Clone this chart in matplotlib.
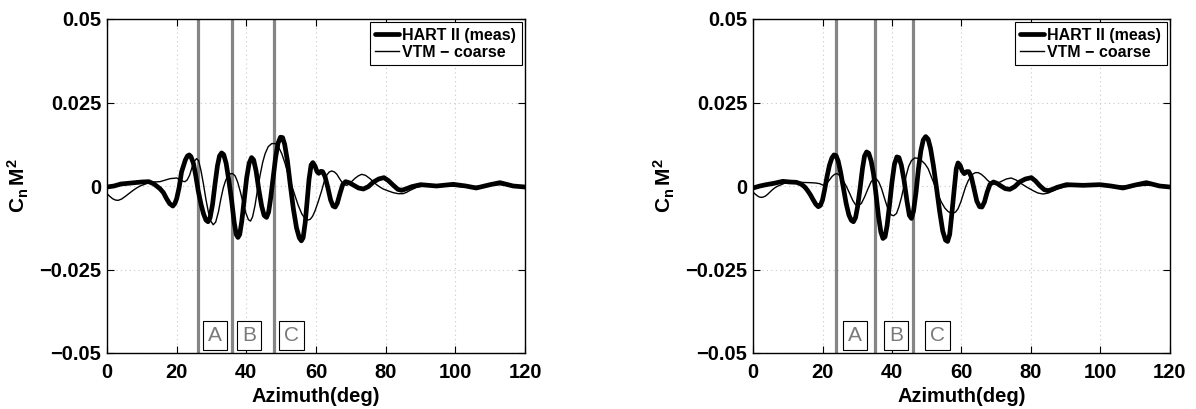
import matplotlib
matplotlib.use("Agg")
import matplotlib.pyplot as plt

plt.rcParams['font.family'] = ['Liberation Sans', 'DejaVu Sans']
plt.rcParams['mathtext.fontset'] = 'custom'
plt.rcParams['mathtext.rm'] = 'Liberation Sans'
plt.rcParams['mathtext.bf'] = 'Liberation Sans:bold'
plt.rcParams['mathtext.it'] = 'Liberation Sans:italic'

# ---------------- data ----------------
# Left panel: HART II measurement
hart_L_az = [0, 2, 4, 6, 8, 10, 12, 13.5, 15.2, 16.2, 17.1, 18.0, 18.9, 19.5, 20, 20.7,
             21.4, 22.5, 23.1, 23.6, 24.1, 24.8, 25.5, 26.2, 27.0, 27.7, 28.4, 29.0, 29.6,
             30.3, 31.0, 31.7, 32.3, 32.9, 33.5, 34.2, 35.0, 35.8, 36.5, 37.1, 37.6, 38.1,
             38.7, 39.4, 40.1, 40.8, 41.5, 42.1, 42.8, 43.6, 44.4, 45.1, 45.8, 46.4, 47.0,
             47.7, 48.4, 49.1, 49.8, 50.4, 51.0, 51.8, 52.6, 53.5, 54.4, 55.2, 55.8, 56.3,
             56.9, 57.5, 58.0, 58.6, 59.1, 59.7, 60.3, 60.8, 61.4, 61.9, 62.6, 63.4, 64.2,
             64.9, 65.5, 66.1, 66.9, 67.7, 68.5, 69.5, 70.7, 72.2, 73.6, 75, 76.5, 78, 79.5,
             80.8, 82.2, 83.5, 84.6, 86, 87.5, 90, 94.6, 99.4, 103, 106, 110, 112.8, 116.6,
             120]
hart_L_cn = [-0.0003, 0.0, 0.0006, 0.0008, 0.001, 0.0012, 0.0013, 0.0006, -0.0008,
             -0.002, -0.0038, -0.0053, -0.006, -0.0052, -0.0038, -0.0005, 0.0042, 0.0078,
             0.009, 0.0093, 0.0088, 0.0068, 0.003, -0.0015, -0.0055, -0.0083, -0.0102,
             -0.0107, -0.0095, -0.0055, 0.0005, 0.006, 0.009, 0.0099, 0.0094, 0.0068,
             0.0015, -0.0045, -0.0108, -0.0145, -0.0154, -0.0145, -0.0105, -0.004, 0.0025,
             0.0068, 0.0085, 0.0078, 0.0045, -0.0012, -0.006, -0.0088, -0.0094, -0.0078,
             -0.0035, 0.0025, 0.0085, 0.0128, 0.0146, 0.0145, 0.0125, 0.0075, 0.0005,
             -0.0068, -0.0125, -0.0155, -0.0164, -0.0155, -0.011, -0.004, 0.002, 0.0063,
             0.0070, 0.006, 0.0043, 0.0038, 0.0044, 0.0043, 0.0028, -0.0005, -0.0042,
             -0.006, -0.0063, -0.0052, -0.0022, 0.0005, 0.0013, 0.001, 0.0003, -0.0006,
             -0.0009, -0.0002, 0.0012, 0.0021, 0.0025, 0.0016, 0.0002, -0.001, -0.0013,
             -0.0008, -0.0002, 0.0004, 0.0, 0.0005, 0.0, -0.0006, 0.0004, 0.001, 0.0,
             -0.0003]

# Left panel: VTM coarse
vtm_L_az = [0, 0.8, 1.6, 2.4, 3.2, 4.2, 5.4, 6.5, 7.5, 8.5, 9.5, 10.5, 11.5, 13.3, 15.2,
            16.5, 18.1, 20, 21, 21.8, 22.4, 23.0, 23.7, 24.4, 25.0, 25.7, 26.3, 27.0, 27.7,
            28.4, 29.1, 29.8, 30.5, 31.2, 32.0, 32.7, 33.4, 34.1, 34.8, 35.5, 36.1, 36.8,
            37.5, 38.3, 39.1, 39.9, 40.6, 41.2, 41.8, 42.5, 43.2, 44.0, 44.7, 45.4, 46.3,
            47.3, 48.3, 49.2, 50.2, 51.1, 52.0, 53.0, 54.0, 54.9, 55.9, 56.8, 57.6, 58.3,
            59.0, 59.7, 60.6, 61.6, 62.4, 63.1, 63.8, 64.5, 65.3, 66, 66.7, 67.4, 68.1,
            68.8, 69.5, 70.3, 71.2, 72.1, 73.1, 74.2, 75.5, 76.5, 77.5, 78.5, 79.3, 80.8,
            82.2, 83.6, 85, 86, 87, 88.9, 91, 93.7, 98, 103, 108, 112.8, 116, 120]
vtm_L_cn = [-0.0023, -0.0031, -0.0038, -0.0042, -0.0043, -0.0039, -0.003, -0.0021,
            -0.0013, -0.0006, 0.0, 0.0004, 0.0008, 0.0012, 0.0013, 0.0017, 0.0022, 0.0024,
            0.002, 0.0014, 0.0013, 0.0018, 0.0032, 0.0055, 0.0073, 0.0082, 0.0076, 0.0045,
            0.0005, -0.004, -0.0078, -0.0105, -0.0116, -0.0108, -0.0077, -0.0038, -0.0005,
            0.0018, 0.0031, 0.0037, 0.0037, 0.003, 0.0012, -0.0018, -0.0052, -0.0082,
            -0.0101, -0.0105, -0.0092, -0.0058, -0.0012, 0.0035, 0.0071, 0.0097, 0.0118,
            0.0127, 0.0127, 0.0118, 0.0096, 0.0068, 0.0035, 0.0002, -0.003, -0.0058,
            -0.0083, -0.0097, -0.0102, -0.0100, -0.0091, -0.0075, -0.0048, -0.0015, 0.0015,
            0.0033, 0.0042, 0.0045, 0.0042, 0.0035, 0.0023, 0.0012, 0.0004, 0.0002, 0.0006,
            0.0014, 0.0023, 0.003, 0.0035, 0.0032, 0.0022, 0.0012, 0.0003, -0.0004, -0.0009,
            -0.0015, -0.002, -0.0023, -0.0023, -0.0019, -0.0013, -0.0004, 0.0, 0.0002, 0.0,
            -0.0003, 0.0, 0.0004, 0.0, 0.0]

# Right panel: HART II measurement
hart_R_az = [0, 2, 3.8, 6, 8.6, 10.6, 12.5, 13.8, 14.8, 15.6, 16.5, 17.3, 18.1, 18.8, 19.4,
             20.0, 20.6, 21.3, 22.0, 22.7, 23.3, 23.9, 24.5, 25.2, 26.0, 26.8, 27.6, 28.3,
             28.9, 29.5, 30.1, 30.8, 31.5, 32.1, 32.7, 33.3, 34.0, 34.7, 35.4, 36.1, 36.8,
             37.4, 38.0, 38.6, 39.3, 40.0, 40.7, 41.4, 42.0, 42.7, 43.5, 44.3, 45.0, 45.6,
             46.2, 46.9, 47.6, 48.3, 49.0, 49.7, 50.4, 51.1, 51.9, 52.8, 53.7, 54.6, 55.4,
             56.0, 56.6, 57.2, 57.9, 58.5, 59.0, 59.6, 60.2, 60.8, 61.5, 62.1, 62.8, 63.6,
             64.4, 65.2, 65.9, 66.6, 67.4, 68.2, 69.2, 70.2, 71.2, 72.6, 73.9, 75.3, 76.7,
             78.4, 80.1, 81.3, 82.5, 83.8, 84.9, 86.2, 87.5, 90.2, 95, 99.8, 103, 106.5, 110,
             113.2, 117, 120]
hart_R_cn = [-0.0006, 0.0, 0.0004, 0.0008, 0.0014, 0.0012, 0.0011, 0.0006, -0.0002,
             -0.0012, -0.0026, -0.0041, -0.0055, -0.0062, -0.0058, -0.0042, -0.0012, 0.0028,
             0.0062, 0.0084, 0.0093, 0.0091, 0.0075, 0.0042, -0.0005, -0.0052, -0.0087,
             -0.0103, -0.0107, -0.0095, -0.0062, -0.0008, 0.0052, 0.009, 0.0102, 0.0098,
             0.0075, 0.0035, -0.0025, -0.009, -0.0138, -0.0157, -0.0152, -0.0118, -0.0055,
             0.0012, 0.0065, 0.0087, 0.0085, 0.0062, 0.0015, -0.0045, -0.0088, -0.0097,
             -0.0075, -0.002, 0.005, 0.0105, 0.0138, 0.0148, 0.0140, 0.0112, 0.0062, -0.0005,
             -0.0075, -0.0135, -0.0162, -0.0166, -0.0145, -0.0085, -0.001, 0.0052, 0.0069,
             0.0062, 0.0045, 0.0037, 0.0043, 0.0043, 0.0028, -0.0008, -0.0045, -0.0062,
             -0.0063, -0.0048, -0.0018, 0.0005, 0.0012, 0.0008, 0.0001, -0.0008, -0.001,
             -0.0002, 0.0012, 0.0021, 0.0025, 0.0015, 0.0001, -0.0011, -0.0014, -0.001,
             -0.0004, 0.0004, 0.0002, 0.0004, 0.0, -0.0006, 0.0003, 0.001, 0.0, -0.0003]

# Right panel: VTM coarse
vtm_R_az = [0, 0.6, 1.2, 1.8, 2.4, 3.0, 3.6, 4.2, 4.8, 5.5, 6.2, 7.0, 7.7, 9, 10.6, 13.4,
            16.3, 18, 19.2, 20.0, 20.6, 21.3, 22.0, 22.8, 23.5, 24.2, 24.9, 25.9, 26.9,
            27.8, 28.7, 29.5, 30.3, 31.2, 32.1, 33.1, 34.0, 34.8, 35.5, 36.2, 37.0, 37.7,
            38.4, 39.1, 39.8, 40.5, 41.3, 42.0, 42.7, 43.4, 44.1, 44.8, 45.6, 46.5, 47.5,
            48.5, 49.5, 50.4, 51.3, 52.3, 53.2, 54.2, 55.2, 56.1, 56.9, 57.6, 58.3, 59.0,
            59.8, 60.5, 61.2, 61.9, 62.6, 63.3, 64.0, 64.8, 65.7, 66.7, 67.4, 68.1, 68.8,
            69.5, 70.5, 71.5, 72.9, 74.3, 75.7, 77.2, 78.9, 80.6, 82.0, 83.5, 85.0, 86.2,
            87.3, 89.5, 92.1, 99.8, 109.4, 117, 120]
vtm_R_cn = [-0.0018, -0.0024, -0.0029, -0.0033, -0.0034, -0.0033, -0.003, -0.0025,
            -0.0019, -0.0012, -0.0006, -0.0001, 0.0002, 0.0008, 0.0012, 0.0011, 0.001,
            0.0009, 0.0007, 0.0003, 0.0003, 0.0009, 0.0018, 0.0029, 0.0035, 0.0037, 0.0032,
            0.0017, -0.0002, -0.0022, -0.0043, -0.0056, -0.0059, -0.0052, -0.0033, -0.0008,
            0.0013, 0.0022, 0.0021, 0.0012, -0.0008, -0.0032, -0.0055, -0.0076, -0.0087,
            -0.0089, -0.0082, -0.0062, -0.0035, -0.0003, 0.0032, 0.0059, 0.0076, 0.0084,
            0.0083, 0.0076, 0.0066, 0.0052, 0.0028, 0.0002, -0.0025, -0.0048, -0.0066,
            -0.0076, -0.0081, -0.0081, -0.0078, -0.0068, -0.0048, -0.0025, -0.0002, 0.0015,
            0.0028, 0.0036, 0.004, 0.004, 0.0035, 0.0026, 0.0018, 0.0012, 0.0007, 0.0006,
            0.0009, 0.0014, 0.0021, 0.0024, 0.0018, 0.0007, -0.0004, -0.0014, -0.0021,
            -0.0024, -0.0021, -0.0015, -0.001, -0.0003, 0.0, 0.0, 0.0, 0.0004, -0.0003]

# Marker lines and region labels
marks_L = [26, 36, 48]
marks_R = [24, 35, 46]
region_names = ['A', 'B', 'C']
region_x_L = [31, 40.8, 53]
region_x_R = [29.4, 41.2, 53]
region_y = -0.0448

xticks = [0, 20, 40, 60, 80, 100, 120]
yticks = [-0.05, -0.025, 0, 0.025, 0.05]
yticklabels = ['\u22120.05', '\u22120.025', '0', '0.025', '0.05']
legend_labels = ['HART II (meas)', 'VTM \u2212 coarse']

# ---------------- figure ----------------
fig = plt.figure(figsize=(11.96, 4.09), dpi=100)
ax_L = fig.add_axes([107/1196, 56/409, 418/1196, 334/409])
ax_R = fig.add_axes([753/1196, 56/409, 417/1196, 334/409])

panels = [
    (ax_L, hart_L_az, hart_L_cn, vtm_L_az, vtm_L_cn, marks_L, region_x_L),
    (ax_R, hart_R_az, hart_R_cn, vtm_R_az, vtm_R_cn, marks_R, region_x_R),
]

for ax, haz, hcn, vaz, vcn, marks, rx in panels:
    ax.set_xlim(0, 120)
    ax.set_ylim(-0.05, 0.05)
    ax.set_xticks(xticks)
    ax.set_yticks(yticks)
    ax.set_xticklabels([str(t) for t in xticks])
    ax.set_yticklabels(yticklabels)
    ax.grid(True, linestyle=(0, (1, 3)), color='#c8c8c8', linewidth=0.8)
    ax.set_axisbelow(True)
    for m in marks:
        ax.axvline(m, color='#858585', linewidth=2.3, zorder=2)
    l1, = ax.plot(haz, hcn, color='black', linewidth=3.4, zorder=4,
                  solid_joinstyle='round', solid_capstyle='round')
    l2, = ax.plot(vaz, vcn, color='black', linewidth=1.0, zorder=5,
                  solid_joinstyle='round')
    for name, x in zip(region_names, rx):
        ax.text(x, region_y, name, ha='center', va='center', fontsize=15,
                color='#7a7a7a', zorder=6,
                bbox=dict(boxstyle='square,pad=0.24', facecolor='white',
                          edgecolor='black', linewidth=0.8))
    leg = ax.legend([l1, l2], legend_labels, loc='upper right', fancybox=False,
                    edgecolor='black', framealpha=1, borderaxespad=0.2,
                    handlelength=1.5, handletextpad=0.2, borderpad=0.35,
                    labelspacing=0.12, prop={'weight': 'bold', 'size': 11.5})
    leg.get_frame().set_linewidth(0.8)
    leg.set_zorder(10)
    ax.tick_params(axis='both', direction='in', top=True, right=True, length=5,
                   width=0.8, labelsize=14.5)
    ax.tick_params(axis='x', pad=7)
    ax.tick_params(axis='y', pad=4)
    for lab in ax.get_xticklabels() + ax.get_yticklabels():
        lab.set_fontweight('bold')
    for sp in ax.spines.values():
        sp.set_linewidth(1.0)
    ax.set_xlabel('Azimuth(deg)', fontsize=14.5, fontweight='bold', labelpad=4)
    ax.set_ylabel(r'$\mathbf{C_n\,M^2}$', fontsize=15, labelpad=6)

fig.savefig('out.png', dpi=100)
